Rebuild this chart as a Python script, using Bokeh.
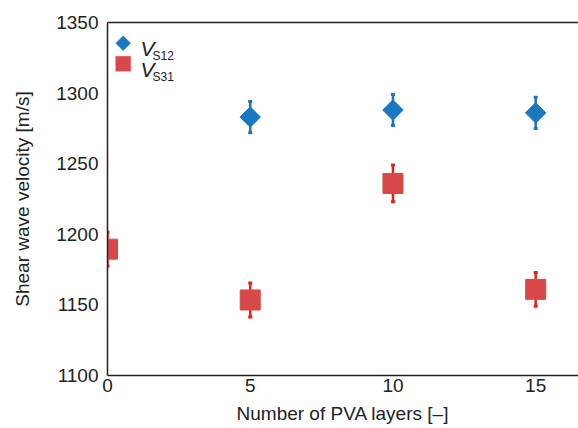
import numpy as np
from bokeh.plotting import figure
from bokeh.models import (ColumnDataSource, Whisker, TeeHead, Label, LinearAxis,
                          BoxAnnotation, PolyAnnotation, Range1d, FixedTicker)
from bokeh.embed import file_html
from bokeh.resources import INLINE

# ---- data ----
vs12_x = [5, 10, 15]
vs12 = [1283, 1288, 1286]
vs12_err = [11, 11, 11]

vs31_x = [0, 5, 10, 15]
vs31 = [1189.5, 1153.5, 1236, 1161]
vs31_err = [12, 12, 13, 12]

x_ticks = [0, 5, 10, 15]
y_ticks = [1100, 1150, 1200, 1250, 1300, 1350]

BLUE = "#1a78c2"
BLUE_ERR = "#1f74c0"
RED = "#d94848"
RED_ERR = "#e2231f"
FONT = "Liberation Sans"
TXT = "#222222"

p = figure(width=578, height=428, x_range=Range1d(0, 16.5), y_range=Range1d(1100, 1350),
           output_backend="svg", toolbar_location=None,
           min_border_left=107, min_border_right=0, min_border_top=22, min_border_bottom=53)
p.outline_line_color = None
p.xgrid.visible = False
p.ygrid.visible = False
p.background_fill_color = "white"
p.border_fill_color = "white"

for ax in (p.xaxis[0], p.yaxis[0]):
    ax.axis_line_color = TXT
    ax.axis_line_width = 1.5
    ax.major_tick_line_color = None
    ax.minor_tick_line_color = None
    ax.major_tick_out = 0
    ax.major_tick_in = 0
    ax.major_label_text_font = FONT
    ax.major_label_text_font_size = "19px"
    ax.major_label_text_color = TXT
    ax.axis_label_text_font = FONT
    ax.axis_label_text_font_size = "19px"
    ax.axis_label_text_font_style = "normal"
    ax.axis_label_text_color = TXT

p.xaxis[0].ticker = FixedTicker(ticks=x_ticks)
p.yaxis[0].ticker = FixedTicker(ticks=y_ticks)
p.xaxis[0].axis_label = "Number of PVA layers [–]"
p.yaxis[0].axis_label = "Shear wave velocity [m/s]"
p.xaxis[0].major_label_standoff = 3
p.xaxis[0].axis_label_standoff = 8
p.yaxis[0].major_label_standoff = 9
p.yaxis[0].axis_label_standoff = 20

top = LinearAxis(ticker=FixedTicker(ticks=[]), major_label_text_font_size="0px",
                 major_tick_out=0, major_tick_in=0, minor_tick_out=0, minor_tick_in=0,
                 major_label_standoff=0, axis_line_color=TXT, axis_line_width=1.5)
p.add_layout(top, "above")

# ---- error bars ----
src12 = ColumnDataSource(dict(x=vs12_x, y=vs12,
                              upper=[v + e for v, e in zip(vs12, vs12_err)],
                              lower=[v - e for v, e in zip(vs12, vs12_err)]))
src31 = ColumnDataSource(dict(x=vs31_x, y=vs31,
                              upper=[v + e for v, e in zip(vs31, vs31_err)],
                              lower=[v - e for v, e in zip(vs31, vs31_err)]))

for src, col in ((src12, BLUE_ERR), (src31, RED_ERR)):
    w = Whisker(base="x", upper="upper", lower="lower", source=src,
                line_color=col, line_width=2.5, level="underlay",
                upper_head=TeeHead(size=4, line_color=col, line_width=3),
                lower_head=TeeHead(size=4, line_color=col, line_width=3))
    p.add_layout(w)

p.scatter("x", "y", source=src12, marker="square", angle=np.pi / 4, size=14.5,
          fill_color=BLUE, line_color=BLUE)
p.scatter("x", "y", source=src31, marker="square", size=20,
          fill_color=RED, line_color=RED)

# ---- legend (manual, screen units relative to frame) ----
H = 353  # frame height in px
cx, cy1, cy2 = 15.7, 20.7, 41.3
d = 7.5
p.add_layout(PolyAnnotation(xs=[cx, cx + d, cx, cx - d], ys=[H - cy1 + d, H - cy1, H - cy1 - d, H - cy1],
                            xs_units="screen", ys_units="screen",
                            fill_color=BLUE, fill_alpha=1, line_color=BLUE))
p.add_layout(BoxAnnotation(left=cx - 7.5, right=cx + 7.5, top=H - cy2 + 7.5, bottom=H - cy2 - 7.5,
                           left_units="screen", right_units="screen",
                           top_units="screen", bottom_units="screen",
                           fill_color=RED, fill_alpha=1, line_color=RED))

for lab, sub, base in (("V", "S12", 26), ("V", "S31", 47)):
    p.add_layout(Label(x=33, y=H - base, x_units="screen", y_units="screen", text=lab,
                       text_font=FONT, text_font_style="italic", text_font_size="21px",
                       text_color=TXT, text_baseline="alphabetic"))
    p.add_layout(Label(x=45, y=H - base - 7, x_units="screen", y_units="screen", text=sub,
                       text_font=FONT, text_font_size="12px",
                       text_color=TXT, text_baseline="alphabetic"))

open("out.html", "w").write(file_html(p, INLINE))
